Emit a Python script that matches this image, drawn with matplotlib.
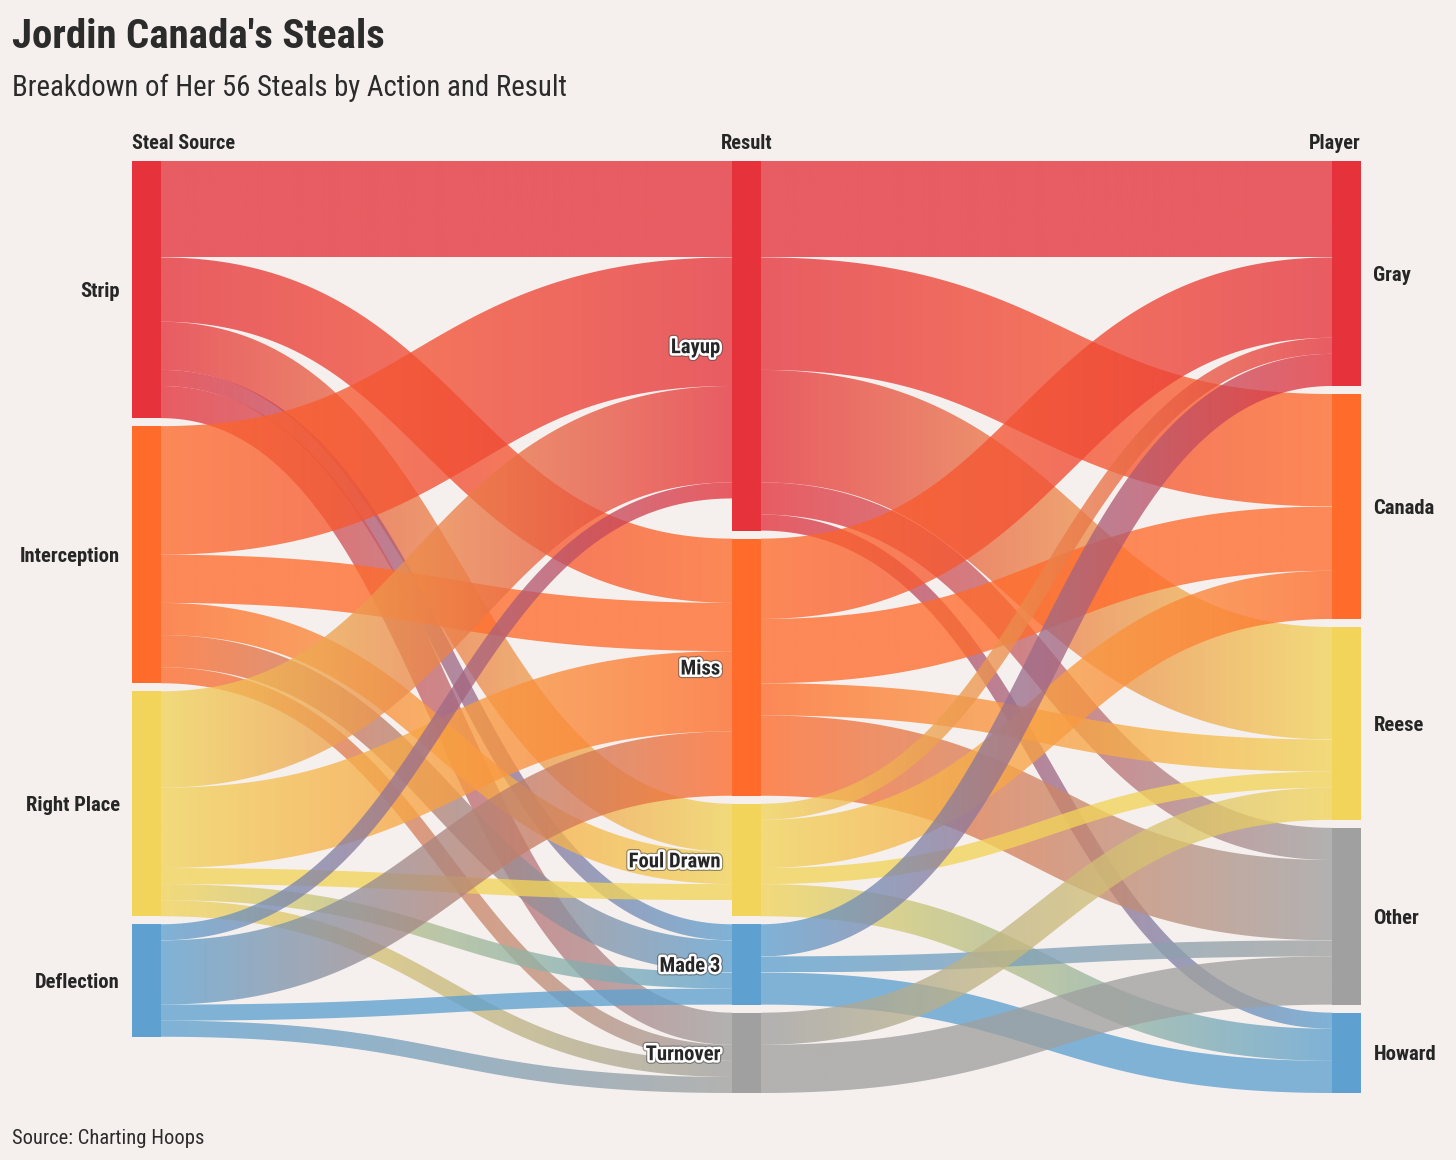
import numpy as np
import matplotlib
matplotlib.use("Agg")
import matplotlib.pyplot as plt
from matplotlib.patches import Polygon, Rectangle
from matplotlib.colors import to_rgb
import matplotlib.patheffects as pe

plt.rcParams['font.family'] = ['Roboto Condensed', 'Liberation Sans Narrow', 'Roboto', 'DejaVu Sans']

# ---------------- data ----------------
sources = ['Strip', 'Interception', 'Right Place', 'Deflection']
results = ['Layup', 'Miss', 'Foul Drawn', 'Made 3', 'Turnover']
players = ['Gray', 'Canada', 'Reese', 'Other', 'Howard']

# steals from each source (rows) to each result (columns)
source_result = [
    [6, 4, 3, 1, 2],   # Strip
    [8, 3, 2, 2, 1],   # Interception
    [6, 5, 1, 1, 1],   # Right Place
    [1, 4, 0, 1, 1],   # Deflection
]
# steals from each result (rows) to each player (columns)
result_player = [
    [6, 7, 7, 2, 1],   # Layup
    [5, 4, 2, 5, 0],   # Miss
    [1, 3, 1, 0, 2],   # Foul Drawn
    [2, 0, 0, 1, 2],   # Made 3
    [0, 0, 2, 3, 0],   # Turnover
]

column_titles = ['Steal Source', 'Result', 'Player']
title = "Jordin Canada's Steals"
subtitle = "Breakdown of Her 56 Steals by Action and Result"
source_note = "Source: Charting Hoops"

RED, ORANGE, YELLOW, BLUE, GRAY = '#E5323B', '#FF6B2B', '#F2D45A', '#5EA1D0', '#A0A0A0'
source_colors = [RED, ORANGE, YELLOW, BLUE]
result_colors = [RED, ORANGE, YELLOW, BLUE, GRAY]
player_colors = [RED, ORANGE, YELLOW, GRAY, BLUE]

BG = '#F5F0EE'
TXT = '#262626'
LINK_ALPHA = 0.78

# ---------------- layout ----------------
sr = np.array(source_result, dtype=float)
rp = np.array(result_player, dtype=float)

src_vals = sr.sum(axis=1)
res_vals = np.maximum(sr.sum(axis=0), rp.sum(axis=1))
ply_vals = rp.sum(axis=0)

GAP = 0.5
NW = 0.0475
col_x = [0.0, 1.0, 2.0]


def tops(vals):
    out, y = [], 0.0
    for v in vals:
        out.append(y)
        y += v + GAP
    return out


src_top = tops(src_vals)
res_top = tops(res_vals)
ply_top = tops(ply_vals)
ymax = max(src_top[-1] + src_vals[-1], res_top[-1] + res_vals[-1], ply_top[-1] + ply_vals[-1])

W, H = 1456, 1160
fig = plt.figure(figsize=(W / 100, H / 100), dpi=100, facecolor=BG)
ax_l, ax_r, ax_t, ax_b = 132, 1361, 161, 1093
ax = fig.add_axes([ax_l / W, (H - ax_b) / H, (ax_r - ax_l) / W, (ax_b - ax_t) / H])
ax.set_facecolor(BG)
ax.axis('off')
xlim = (0, 2 + NW)
ylim = (ymax, 0)
ax.set_xlim(*xlim)
ax.set_ylim(*ylim)

sx = (ax_r - ax_l) / (xlim[1] - xlim[0])   # px per x unit
sy = (ax_b - ax_t) / ymax                   # px per y unit


def draw_link(x0, y0, x1, y1, v, c0, c1):
    """Band as a stroked cubic bezier, filled with a horizontal gradient."""
    t = np.linspace(0, 1, 160)[:, None]
    xm = (x0 + x1) / 2
    P0 = np.array([x0 * sx, (y0 + v / 2) * sy])
    P1 = np.array([xm * sx, (y0 + v / 2) * sy])
    P2 = np.array([xm * sx, (y1 + v / 2) * sy])
    P3 = np.array([x1 * sx, (y1 + v / 2) * sy])
    B = (1 - t) ** 3 * P0 + 3 * (1 - t) ** 2 * t * P1 + 3 * (1 - t) * t ** 2 * P2 + t ** 3 * P3
    D = 3 * (1 - t) ** 2 * (P1 - P0) + 6 * (1 - t) * t * (P2 - P1) + 3 * t ** 2 * (P3 - P2)
    N = np.column_stack([-D[:, 1], D[:, 0]])
    N /= np.linalg.norm(N, axis=1)[:, None]
    half = v * sy / 2
    up = B + N * half
    lo = B - N * half
    pts = np.vstack([up, lo[::-1]])
    pts = np.column_stack([pts[:, 0] / sx, pts[:, 1] / sy])
    patch = Polygon(pts, closed=True, transform=ax.transData)
    r0, r1 = np.array(to_rgb(c0)), np.array(to_rgb(c1))
    g = np.linspace(0, 1, 256)[:, None]
    rgb = (1 - g) * r0 + g * r1
    img = np.concatenate([rgb, np.full((256, 1), LINK_ALPHA)], axis=1)[None, :, :]
    ymin_b, ymax_b = pts[:, 1].min(), pts[:, 1].max()
    im = ax.imshow(img, extent=(x0, x1, ymax_b, ymin_b), aspect='auto',
                   interpolation='bilinear', zorder=1)
    im.set_clip_path(patch)


# stage 1 links
src_cur = list(src_top)
res_in_cur = list(res_top)
for i in range(len(sources)):
    for j in range(len(results)):
        v = sr[i, j]
        if v <= 0:
            continue
        draw_link(col_x[0] + NW, src_cur[i], col_x[1], res_in_cur[j], v,
                  source_colors[i], result_colors[j])
        src_cur[i] += v
        res_in_cur[j] += v

# stage 2 links
res_out_cur = list(res_top)
ply_cur = list(ply_top)
for j in range(len(results)):
    for k in range(len(players)):
        v = rp[j, k]
        if v <= 0:
            continue
        draw_link(col_x[1] + NW, res_out_cur[j], col_x[2], ply_cur[k], v,
                  result_colors[j], player_colors[k])
        res_out_cur[j] += v
        ply_cur[k] += v

ax.set_xlim(*xlim)
ax.set_ylim(*ylim)

# nodes + labels
halo = [pe.withStroke(linewidth=5.2, foreground='#444444', alpha=0.55),
        pe.withStroke(linewidth=3.6, foreground='white')]
LBL = 14.9


def node_col(names, vals, tps, colors, cx, side, halo_fx=None):
    for n, v, tp, c in zip(names, vals, tps, colors):
        ax.add_patch(Rectangle((cx, tp), NW, v, facecolor=c, edgecolor='none', zorder=3))
        yc = tp + v / 2
        if side == 'left':
            ax.annotate(n, xy=(cx, yc), xytext=(-8.8, -5.3), textcoords='offset points',
                        ha='right', va='baseline', fontsize=LBL, fontweight='bold',
                        color=TXT, zorder=5, path_effects=halo_fx)
        else:
            ax.annotate(n, xy=(cx + NW, yc), xytext=(9.0, -5.3), textcoords='offset points',
                        ha='left', va='baseline', fontsize=LBL, fontweight='bold',
                        color=TXT, zorder=5)


node_col(sources, src_vals, src_top, source_colors, col_x[0], 'left')
node_col(results, res_vals, res_top, result_colors, col_x[1], 'left', halo)
node_col(players, ply_vals, ply_top, player_colors, col_x[2], 'right')

# column headers
hdr = dict(textcoords='offset points', va='baseline', fontsize=14.6, fontweight='bold', color=TXT)
ax.annotate(column_titles[0], xy=(col_x[0], 0), xytext=(0, 8.6), ha='left', **hdr)
ax.annotate(column_titles[1], xy=(col_x[1] + NW / 2, 0), xytext=(0, 8.6), ha='center', **hdr)
ax.annotate(column_titles[2], xy=(col_x[2] + NW, 0), xytext=(0, 8.6), ha='right', **hdr)

# titles
fig.text(12 / W, 1 - 48 / H, title, fontsize=29.4, fontweight='bold', color='#2B2B2B',
         ha='left', va='baseline')
fig.text(12 / W, 1 - 95.5 / H, subtitle, fontsize=20.7, color='#2B2B2B', ha='left', va='baseline')
fig.text(12 / W, 1 - 1144 / H, source_note, fontsize=14.8, color='#2B2B2B', ha='left', va='baseline')

fig.savefig('out.png', dpi=100, facecolor=BG)
